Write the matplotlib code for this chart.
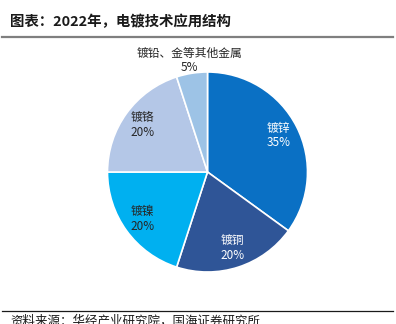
import matplotlib
matplotlib.use("Agg")
import matplotlib.pyplot as plt
from matplotlib.lines import Line2D

plt.rcParams['font.family'] = ['Noto Sans CJK SC', 'DejaVu Sans']

categories = ['镀锌', '镀铜', '镀镍', '镀铬', '镀铅、金等其他金属']
shares = [35, 20, 20, 20, 5]
colors = ['#0a70c4', '#2f5597', '#00b0f0', '#b4c7e7', '#9dc3e6']
text_colors = ['white', 'white', '#262626', '#262626', '#262626']

W, H = 396, 324
fig = plt.figure(figsize=(W / 100, H / 100), dpi=100)

# title + rule
fig.text(10 / W, 1 - 22 / H, '图表：2022年，电镀技术应用结构', fontsize=10.4,
         fontweight='bold', ha='left', va='center', color='#1a1a1a')
fig.add_artist(Line2D([2 / W, 393 / W], [1 - 37 / H, 1 - 37 / H],
                      color='#7f7f7f', linewidth=1.6, transform=fig.transFigure))

# pie
ax = fig.add_axes([107 / W, 1 - 272 / H, 201 / W, 200 / H])
wedges, texts, autotexts = ax.pie(
    shares, colors=colors, startangle=90, counterclock=False, radius=1,
    wedgeprops=dict(edgecolor='white', linewidth=1.2),
    autopct=lambda p: '', pctdistance=0.8)

for i, t in enumerate(autotexts):
    t.set_text(f'{categories[i]}\n{shares[i]}%')
    t.set_color(text_colors[i])
    t.set_fontsize(8.5)
    t.set_linespacing(1.15)

# the small slice gets its label outside
x, y = autotexts[-1].get_position()
autotexts[-1].set_position((x / 0.8 * 1.13, y / 0.8 * 1.13))

ax.set_xlim(-1, 1)
ax.set_ylim(-1, 1)
ax.set_aspect('equal')
ax.axis('off')

# footer rule + source
fig.add_artist(Line2D([2 / W, 393 / W], [1 - 311 / H, 1 - 311 / H],
                      color='#1a1a1a', linewidth=0.9, transform=fig.transFigure))
fig.text(10 / W, 1 - 315 / H, '资料来源：华经产业研究院，国海证券研究所', fontsize=9,
         ha='left', va='top', color='#1a1a1a')

fig.savefig('out.png', dpi=100)
